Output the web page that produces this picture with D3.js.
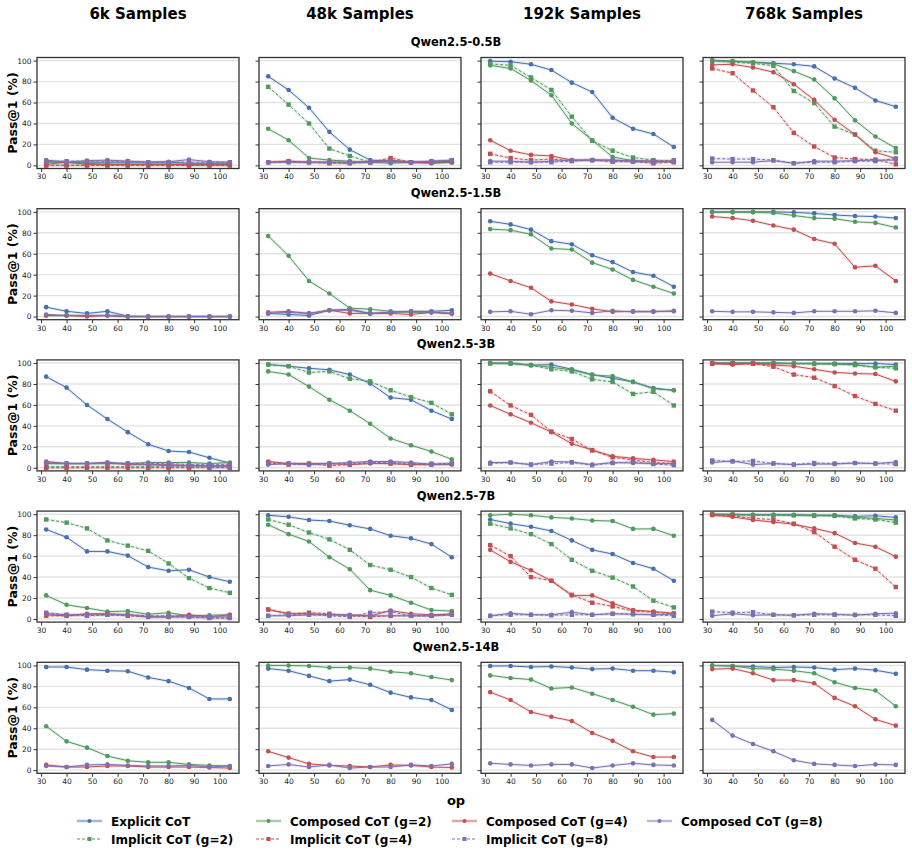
<!DOCTYPE html>
<html>
<head>
<meta charset="utf-8">
<script src="https://cdn.jsdelivr.net/npm/d3@7"></script>
<style>
  body { margin: 0; background: #fff; }
  svg { font-family: "DejaVu Sans", sans-serif; }
</style>
</head>
<body>
<div id="chart"></div>
<script>
// ---- data ----
const ops = [32, 40, 48, 56, 64, 72, 80, 88, 96, 104]
const sampleSizes = ["6k Samples", "48k Samples", "192k Samples", "768k Samples"]
const models = ["Qwen2.5-0.5B", "Qwen2.5-1.5B", "Qwen2.5-3B", "Qwen2.5-7B", "Qwen2.5-14B"]
const methods = ["Explicit CoT", "Implicit CoT (g=2)", "Composed CoT (g=2)", "Implicit CoT (g=4)",
                 "Composed CoT (g=4)", "Implicit CoT (g=8)", "Composed CoT (g=8)"]
const yTicks = [0, 20, 40, 60, 80, 100]
const xTicks = [30, 40, 50, 60, 70, 80, 90, 100]

// each panel: one row per method (same order as `methods`), null = not trained
const q05_6k = [
  [4, 3, 3, 3, 3, 3, 3, 2, 2, 2],
  [0, 0, 0, 0, 0, 0, 0, 0, 0, 0],
  [3, 3, 2, 1, 1, 1, 1, 1, 1, 1],
  [0, 0, 0, 0, 0, 0, 0, 0, 0, 0],
  [1, 3, 1, 1, 1, 1, 1, 0.5, 0.5, 0.5],
  [4, 4, 4, 4, 4, 3, 3, 3, 3, 3],
  [5, 3, 4.5, 5, 4, 3, 3.5, 5.5, 3.5, 3]]
const q05_48k = [
  [85, 72, 55, 32, 15, 5, 4, 3, 2, 3],
  [75, 58, 40, 16, 9, 3, 4, 3, 3, 3],
  [35, 24, 7, 5, 4, 3, 2, 3, 3, 3],
  [3, 4, 3, 2, 2, 3, 7, 3, 3, 4],
  [3, 4, 3, 3, 3, 3, 5, 3, 3, 4],
  [3, 3, 3, 3, 3, 3, 3, 3, 4, 5],
  [3, 3, 3, 3, 2, 4, 4, 3, 4, 5]]
const q05_192k = [
  [99.5, 99, 96.5, 91, 79, 70, 45.5, 35, 30, 17.5],
  [97, 95.5, 84, 72, 46.5, 23.5, 14, 7.5, 5, 3.5],
  [95.5, 92.5, 81, 67, 40, 24, 8, 4.5, 4, 3.5],
  [11, 7, 5, 6, 4.5, 5, 3.5, 3.5, 2, 3],
  [24, 14, 10, 9, 5, 5, 5, 4, 4, 4],
  [3, 3, 3, 3, 4, 5, 4, 4, 4, 5],
  [4, 4, 3, 4, 5, 5, 5, 4, 3, 4]]
const q05_768k = [
  [100, 99.5, 98.5, 97.5, 96.5, 94.5, 83, 74, 62, 56],
  [100, 98.5, 97.5, 95, 71, 59.5, 37, 29.5, 14, 12.5],
  [100, 99.5, 98.5, 97, 90, 82, 64, 43, 27.5, 16.5],
  [92.5, 88, 71.5, 55.5, 31, 18, 7.5, 6, 5.5, 1],
  [96, 96.5, 93.5, 89, 77.5, 62.5, 43.5, 29.5, 12.5, 6.5],
  [6.5, 6, 6, 5, 2, 3, 3, 4, 4, 6.5],
  [3, 3, 3, 4.5, 2, 4, 4, 4.5, 5, 5]]

const q15_6k = [
  [9, 5, 3, 5, 0.3, 0, 0, 0, 0, 0],
  null,
  [1, 1, 1, 1, 0, 0, 0, 0, 0, 0],
  null,
  [1, 1, 0, 1, 0, 0, 0, 0, 0, 0],
  null,
  [2, 1, 1, 1, 0, 0, 0, 0, 0, 0]]
const q15_48k = [
  [3, 2, 1, 6, 7, 3, 4, 5, 5, 6],
  null,
  [77, 58, 34, 22, 8, 7, 5, 4, 4, 3],
  null,
  [4, 5, 3, 6, 3, 3, 3, 2, 4, 3],
  null,
  [3, 4, 3, 6, 6, 3, 4, 5, 4, 3]]
const q15_192k = [
  [91, 88, 83, 72, 69, 58.5, 52, 42.5, 39, 28.5],
  null,
  [83.5, 82.5, 78.5, 65, 64, 51.5, 45, 35, 28.5, 22],
  null,
  [41, 34, 27.5, 14.5, 11.5, 7.5, 4.5, 5, 5, 5],
  null,
  [4.5, 5, 2.2, 6, 5.5, 3.5, 5.5, 4.5, 4.5, 5.5]]
const q15_768k = [
  [100, 100, 100, 100, 99.5, 98.5, 97, 96, 95.5, 94],
  null,
  [99.5, 99.5, 99.5, 99, 96.5, 94, 93.5, 90.5, 89.5, 85],
  null,
  [95.5, 94, 91.5, 87, 83, 74, 69.5, 47, 48.5, 34],
  null,
  [5, 4.5, 4.5, 4, 3.5, 5, 5, 5, 5.5, 3.5]]

const q3_6k = [
  [87, 76.5, 60, 46.5, 34, 22.5, 16, 15, 9.5, 4.5],
  [1, 1, 1, 1, 1, 1, 1, 1, 1, 1],
  [4, 4, 4, 4, 4, 5, 5, 5, 4, 5],
  [0, 0, 0, 0, 0, 0, 0, 0, 0, 0],
  [6, 4, 4, 5, 3, 3, 3, 2, 2, 2],
  [4, 4, 4, 4, 4, 4, 4, 3, 3, 3],
  [5, 4, 4, 5, 4, 3, 2, 2, 1, 1]]
const q3_48k = [
  [98.5, 97, 95, 93.5, 89, 80.5, 67, 65, 54.5, 46.5],
  [98.5, 97, 91, 92, 85, 82.5, 74, 67.5, 62, 51],
  [92, 89, 77.5, 65, 54.5, 42, 28, 21.5, 15.5, 8],
  [5, 3, 4, 2, 3, 5, 4, 3, 3, 4],
  [6, 4, 4, 4, 3, 4, 4, 3, 3, 3],
  [4, 4, 3, 4, 4, 5, 5, 4, 4, 4],
  [3, 4, 3, 4, 5, 6, 6, 5, 3, 4]]
const q3_192k = [
  [100, 99.5, 98, 98.5, 94, 89, 85.5, 82, 76, 74],
  [99.5, 99.5, 98, 94, 92, 84.5, 82, 70.5, 72.5, 59.5],
  [100, 100, 98, 96, 93.5, 88.5, 87.5, 82, 75.5, 74],
  [73, 59.5, 50.5, 34.5, 27.5, 16.5, 10, 7.5, 5, 4],
  [59.5, 51, 43, 34, 23, 17, 11, 9, 7.5, 6],
  [4, 5, 3, 4, 5, 2.5, 4.5, 5.5, 3.5, 2.5],
  [5, 5, 3, 6, 5.5, 3, 5, 4.5, 4, 4]]
const q3_768k = [
  [100, 100, 100, 100, 99.5, 99.5, 99.5, 99.5, 99.5, 98.5],
  [99.5, 99.5, 99.5, 99.5, 99.5, 99, 99, 98, 96, 95],
  [100, 100, 100, 100, 99.5, 99.5, 99, 98.5, 96, 97],
  [99.5, 99.5, 99.5, 96.5, 89, 86, 78, 68.5, 61, 54.5],
  [99.5, 98.5, 99.5, 98, 97, 94, 91, 90, 89.5, 82.5],
  [7, 6, 6.5, 4, 3, 4.5, 4, 4.5, 4, 3.5],
  [5, 6.5, 3, 4, 3, 3.5, 3.5, 4.5, 4, 5.5]]

const q7_6k = [
  [85.5, 78, 64.5, 64.5, 60.5, 49.5, 46, 47, 40, 35.5],
  [95, 92, 86.5, 75, 70, 65, 53, 39, 29.5, 25],
  [22.5, 13.5, 10.5, 7, 7.5, 4.5, 6, 3, 3.5, 4],
  [3, 3, 4, 4, 3, 2, 2, 2, 1, 1],
  [4, 3, 5, 5, 4, 2, 2, 4, 2, 4],
  [6, 4, 3, 4, 4, 3, 3, 2, 1, 1],
  [5, 4, 4, 4, 4, 2, 2, 2, 2, 2]]
const q7_48k = [
  [99, 97.5, 94.5, 93.5, 89.5, 86, 79.5, 77, 71.5, 59],
  [95, 90, 82.5, 76, 66, 51.5, 47, 40, 29.5, 23],
  [90, 81, 74, 59, 47.5, 27.5, 22.5, 15.5, 8.5, 7.5],
  [9, 5, 6, 5, 3, 2, 3, 3, 3, 5],
  [9, 5, 5, 4, 3.5, 3, 8, 5, 4, 4.5],
  [3, 4, 4, 3, 2, 6, 7, 3, 3, 4],
  [3, 3, 4, 4, 4, 3, 3, 3, 3, 4]]
const q7_192k = [
  [95, 91, 88, 84, 75, 66, 62, 53.5, 48, 36.5],
  [91, 86.5, 81, 71.5, 56.5, 46, 39.5, 31, 17.5, 11],
  [99, 100, 99, 97, 96, 94, 93.5, 86, 86, 79.5],
  [70.5, 60, 40, 36.5, 23, 15.5, 12, 7.5, 6.5, 5],
  [66, 54.5, 46.5, 36.5, 22.5, 22.5, 15, 8.5, 7, 5.5],
  [3, 4, 4, 3.5, 4, 4, 5, 4.5, 4, 3],
  [3, 5.5, 4, 4, 6.5, 4, 5, 4.5, 4, 4.5]]
const q7_768k = [
  [100, 99.5, 99.5, 99.5, 99.5, 99, 99, 98, 98.5, 97],
  [99.5, 99.5, 99, 99, 99, 98.5, 98.5, 96, 95, 92],
  [100, 100, 99.5, 99.5, 99, 99, 98.5, 97, 96, 94.5],
  [99.5, 98.5, 96, 95, 91, 83, 69, 56.5, 48, 30.5],
  [99, 97.5, 94.5, 92.5, 90.5, 86.5, 82, 72.5, 69, 59.5],
  [7, 6, 6.5, 4, 3.5, 4, 4, 4, 4, 3],
  [3, 5, 3.5, 4, 3.5, 5, 4.5, 3.5, 5, 5.5]]

const q14_6k = [
  [98.5, 98.5, 96, 95, 94.5, 88.5, 85, 78.5, 68, 68],
  null,
  [42, 27.5, 21.5, 13.5, 9, 7.5, 7.5, 5.5, 4.5, 4],
  null,
  [5, 3, 3, 4, 4, 3, 3, 3, 2.5, 2],
  null,
  [4, 3, 5, 5.5, 4.5, 4, 4, 4.5, 3, 4]]
const q14_48k = [
  [97, 95, 90, 85, 86.5, 81.5, 74, 69.5, 67, 57.5],
  null,
  [100, 100, 99.5, 98, 98, 97, 94, 92.5, 89, 86],
  null,
  [18, 12, 6, 4.5, 4, 3, 5, 4.5, 3, 2.5],
  null,
  [4, 5.5, 3, 5, 2, 3, 3, 5, 4, 6]]
const q14_192k = [
  [99.5, 99.5, 98.5, 99, 98, 96.5, 97, 95, 95, 93.5],
  null,
  [90.5, 88, 86.5, 78, 79, 73, 67, 60.5, 53, 54],
  null,
  [74.5, 67, 55.5, 51, 47, 35.5, 28, 18, 12.5, 12.5],
  null,
  [6.5, 5.5, 4.5, 5.5, 5.5, 2, 4.5, 6.5, 5, 4.5]]
const q14_768k = [
  [100, 99.5, 99, 98, 98.5, 98, 96, 97, 95.5, 92],
  null,
  [100, 99.5, 97, 96.5, 95, 92.5, 84, 78.5, 76, 61],
  null,
  [96.5, 97, 92.5, 86, 86, 83, 69, 61, 48.5, 42.5],
  null,
  [48, 33, 25, 18, 9.5, 6, 5, 4, 5.5, 5]]

const panels = [
  [q05_6k, q05_48k, q05_192k, q05_768k],
  [q15_6k, q15_48k, q15_192k, q15_768k],
  [q3_6k, q3_48k, q3_192k, q3_768k],
  [q7_6k, q7_48k, q7_192k, q7_768k],
  [q14_6k, q14_48k, q14_192k, q14_768k]]

// ---- style ----
const WIDTH = 912
const HEIGHT = 852
const PANEL = {LEFT: 37, TOP: 57.5, W: 202, H: 111, COLSTEP: 222, ROWSTEP: 151.2}
const colourScale = d3.scaleOrdinal()
    .domain(["1", "2", "4", "8"])
    .range(["#4670ae", "#4f9a5d", "#c44e52", "#7f6fb2"])
const groupOf = m => (m.match(/g=(\d)/) || [null, "1"])[1]
const isImplicit = m => m.startsWith("Implicit")

const svg = d3.select("#chart").append("svg")
    .attr("width", WIDTH)
    .attr("height", HEIGHT)

// column headers
svg.selectAll("text.colTitle")
    .data(sampleSizes)
    .enter().append("text")
    .attr("class", "colTitle")
    .attr("x", (d, i) => PANEL.LEFT + i * PANEL.COLSTEP + PANEL.W / 2)
    .attr("y", 19)
    .attr("text-anchor", "middle")
    .style("font-size", "15px")
    .style("font-weight", "bold")
    .text(d => d)

const x = d3.scaleLinear().domain([28.4, 107.6]).range([0, PANEL.W])
const y = d3.scaleLinear().domain([-3, 103]).range([PANEL.H, 0])
const line = d3.line().x((d, i) => x(ops[i])).y(d => y(d))

models.forEach((model, r) => {
    const top = PANEL.TOP + r * PANEL.ROWSTEP
    // row title
    svg.append("text")
        .attr("x", WIDTH / 2)
        .attr("y", top - 11.5)
        .attr("text-anchor", "middle")
        .style("font-size", "11.5px")
        .style("font-weight", "bold")
        .text(model)

    // y label, one per row
    svg.append("text")
        .attr("transform", `translate(17,${top + PANEL.H / 2}) rotate(-90)`)
        .attr("text-anchor", "middle")
        .style("font-size", "12.5px")
        .style("font-weight", "bold")
        .text("Pass@1 (%)")

    sampleSizes.forEach((size, c) => {
        const g = svg.append("g")
            .attr("transform", `translate(${PANEL.LEFT + c * PANEL.COLSTEP},${top})`)

        // grid
        g.selectAll("line.grid")
            .data(yTicks)
            .enter().append("line")
            .attr("x1", 0).attr("x2", PANEL.W)
            .attr("y1", d => y(d)).attr("y2", d => y(d))
            .style("stroke", "#e3e3e3")
            .style("stroke-width", 1.4)

        // axes
        const yAxis = d3.axisLeft(y).tickValues(yTicks).tickSize(3.5).tickPadding(2)
        if (c > 0) yAxis.tickFormat("")
        g.append("g").attr("class", "axis").call(yAxis)
        g.append("g").attr("class", "axis")
            .attr("transform", `translate(0,${PANEL.H})`)
            .call(d3.axisBottom(x).tickValues(xTicks).tickSize(3.5).tickPadding(2))

        // series
        const rows = panels[r][c]
        const series = methods.map((m, k) => ({method: m, values: rows[k]}))
            .filter(s => s.values)
        const s = g.selectAll("g.series")
            .data(series)
            .enter().append("g")
            .attr("class", "series")
        s.append("path")
            .attr("d", d => line(d.values))
            .style("fill", "none")
            .style("stroke", d => colourScale(groupOf(d.method)))
            .style("stroke-opacity", 0.15)
            .style("stroke-width", 3)
        s.append("path")
            .attr("d", d => line(d.values))
            .style("fill", "none")
            .style("stroke", d => colourScale(groupOf(d.method)))
            .style("stroke-width", 1)
            .style("stroke-dasharray", d => isImplicit(d.method) ? "3,2" : null)
        s.each(function(d) {
            const col = colourScale(groupOf(d.method))
            const sel = d3.select(this)
            if (isImplicit(d.method)) {
                sel.selectAll("rect").data(d.values).enter().append("rect")
                    .attr("x", (v, i) => x(ops[i]) - 2.2)
                    .attr("y", v => y(v) - 2.2)
                    .attr("width", 4.4).attr("height", 4.4)
                    .style("fill", col)
            } else {
                sel.selectAll("circle").data(d.values).enter().append("circle")
                    .attr("cx", (v, i) => x(ops[i]))
                    .attr("cy", v => y(v))
                    .attr("r", 2.3)
                    .style("fill", col)
            }
        })

        // frame
        g.append("rect")
            .attr("width", PANEL.W).attr("height", PANEL.H)
            .style("fill", "none")
            .style("stroke", "#333")
            .style("stroke-width", 1.3)
    })
})

svg.selectAll(".axis path").remove()
svg.selectAll(".axis line").style("stroke", "#333")
svg.selectAll(".axis text").style("font-size", "7.5px").style("fill", "#222")
    .style("font-family", "DejaVu Sans, sans-serif")

// x label
svg.append("text")
    .attr("x", WIDTH / 2).attr("y", 805)
    .attr("text-anchor", "middle")
    .style("font-size", "13px")
    .style("font-weight", "bold")
    .text("op")

// legend: 4 columns, filled column by column
const legend = svg.append("g")
const legendCols = [77, 256, 452, 647]
methods.forEach((m, k) => {
    const lx = legendCols[Math.floor(k / 2)]
    const ly = 821 + (k % 2) * 18
    const col = colourScale(groupOf(m))
    const item = legend.append("g").attr("transform", `translate(${lx},${ly})`)
    if (isImplicit(m)) {
        item.append("line").attr("x1", 0).attr("x2", 25)
            .style("stroke", col).style("stroke-width", 1).style("stroke-dasharray", "3,2")
        item.append("rect").attr("x", 10.5).attr("y", -2).attr("width", 4).attr("height", 4).style("fill", col)
    } else {
        item.append("line").attr("x1", 0).attr("x2", 25)
            .style("stroke", col).style("stroke-opacity", 0.5).style("stroke-width", 2.5)
        item.append("circle").attr("cx", 12.5).attr("r", 2).style("fill", col)
    }
    item.append("text")
        .attr("x", 34).attr("y", 4.5)
        .style("font-size", "12px")
        .style("font-weight", "bold")
        .text(m)
})
</script>
</body>
</html>
